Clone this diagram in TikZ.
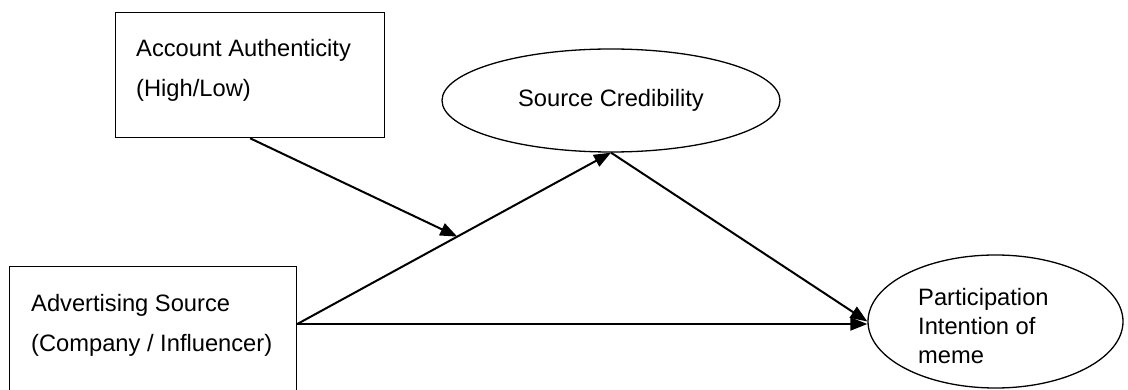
\documentclass[tikz,border=0pt]{standalone}
\usepackage{fontspec}
\setmainfont{Liberation Sans}
\usetikzlibrary{shapes.geometric,arrows.meta,calc}
\begin{document}
\begin{tikzpicture}[x=1pt,y=-1pt,
  boxshape/.style={draw,line width=1.3pt,rectangle,inner sep=0pt},
  ellshape/.style={draw,line width=1.3pt,ellipse,inner sep=0pt,font=\fontsize{23.7}{29}\selectfont},
  boxtext/.style={inner sep=0pt,align=left,font=\fontsize{23.7}{40}\selectfont},
  elltext/.style={inner sep=0pt,align=left,font=\fontsize{23.7}{29}\selectfont},
  conn/.style={line width=2pt,-{Triangle[length=17pt,width=13pt]}},
  plain/.style={line width=2pt}]
\useasboundingbox (0,0) rectangle (1128,390);
% boxes
\node[boxshape,anchor=north west,minimum width=269pt,minimum height=125pt] (aa) at (115,12) {};
\node[boxtext,anchor=base west] (aatext) at (136,97) {Account Authenticity\\(High/Low)};
\node[boxshape,anchor=north west,minimum width=287pt,minimum height=130pt] (ad) at (9,266) {};
\node[boxtext,anchor=base west] (adtext) at (31,352) {Advertising Source\\(Company / Influencer)};
% ellipses
\node[ellshape,minimum width=338pt,minimum height=103pt] (sc) at (611,100.5) {Source Credibility};
\node[ellshape,minimum width=255pt,minimum height=133pt] (pi) at (995.5,321.5) {};
\node[elltext,anchor=base west] (pitext) at (918,363) {Participation\\Intention of\\meme};
% connectors
\coordinate (adout) at ($(ad.north east)+(0,58)$);
\draw[conn] (adout) -- (sc.south) coordinate[pos=0.51] (mid);
\draw[conn] (sc.south) -- (pi.west);
\draw[conn] (adout) -- (adout -| pi.west);
\draw[conn] (aa.south) -- (mid);
\end{tikzpicture}
\end{document}
